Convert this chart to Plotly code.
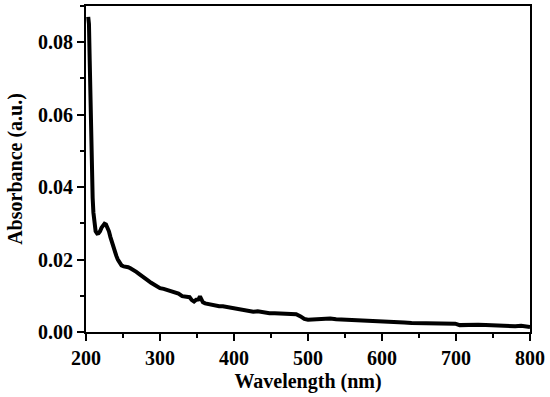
import plotly.graph_objects as go

wavelength = [203, 204, 205, 206, 207, 208, 209, 210, 211, 212, 213, 214, 215, 217, 219, 221, 223, 225, 227, 229, 231, 233, 235, 237, 239, 241, 243, 245, 248, 251, 254, 257, 260, 264, 268, 272, 276, 280, 284, 288, 292, 296, 300, 305, 310, 315, 320, 325, 330, 335, 340, 343, 346, 349, 352, 354, 356, 358, 361, 365, 370, 375, 380, 385, 390, 395, 400, 408, 415, 420, 426, 432, 440, 448, 455, 462, 470, 478, 484, 490, 495, 500, 508, 515, 522, 530, 538, 546, 555, 565, 575, 585, 595, 605, 615, 625, 630, 640, 650, 660, 670, 680, 690, 699, 705, 712, 720, 730, 740, 750, 760, 765, 772, 780, 788, 795, 800]
absorbance = [0.087, 0.085, 0.075, 0.063, 0.052, 0.043, 0.037, 0.033, 0.030, 0.0285, 0.0278, 0.0275, 0.0272, 0.0273, 0.0278, 0.0288, 0.0296, 0.0299, 0.0297, 0.0290, 0.0278, 0.0262, 0.0248, 0.0232, 0.0222, 0.0210, 0.0200, 0.0192, 0.0184, 0.0181, 0.0181, 0.0179, 0.0176, 0.0172, 0.0166, 0.0160, 0.0153, 0.0148, 0.0142, 0.0136, 0.0130, 0.0126, 0.0121, 0.0119, 0.0116, 0.0112, 0.0110, 0.0106, 0.0099, 0.0098, 0.0096, 0.0088, 0.0084, 0.0089, 0.0090, 0.0098, 0.0090, 0.0082, 0.0079, 0.0077, 0.0075, 0.0072, 0.0071, 0.0071, 0.0069, 0.0068, 0.0066, 0.0064, 0.0061, 0.0058, 0.0056, 0.0057, 0.0054, 0.0052, 0.0052, 0.0051, 0.0050, 0.0051, 0.0049, 0.0043, 0.0036, 0.0034, 0.0035, 0.0036, 0.0035, 0.0037, 0.0035, 0.0034, 0.0035, 0.0033, 0.0032, 0.0030, 0.0030, 0.0029, 0.0028, 0.0024, 0.0026, 0.0025, 0.0025, 0.0024, 0.0024, 0.0023, 0.0023, 0.0023, 0.0019, 0.0020, 0.0019, 0.0020, 0.0019, 0.0018, 0.0019, 0.0017, 0.0018, 0.0016, 0.0017, 0.0015, 0.0014]

x_ticks = [200, 300, 400, 500, 600, 700, 800]
y_ticks = [0.00, 0.02, 0.04, 0.06, 0.08]
y_tick_labels = ["0.00", "0.02", "0.04", "0.06", "0.08"]

font_family = "Liberation Serif, Times New Roman, serif"

fig = go.Figure()
fig.add_trace(go.Scatter(
    x=wavelength, y=absorbance, mode="lines",
    line=dict(color="black", width=4), showlegend=False,
))

axis_common = dict(
    showgrid=False, zeroline=False, showline=True, linecolor="black", linewidth=2,
    mirror=True, ticks="outside", tickwidth=2, ticklen=7, tickcolor="black",
    automargin=False,
    tickfont=dict(family=font_family, size=20, color="black", weight="bold"),
)

fig.update_xaxes(
    range=[200, 800], tickvals=x_ticks,
    minor=dict(ticks="outside", ticklen=4, tickwidth=2, tickcolor="black", dtick=50, tick0=200),
    title=dict(text="Wavelength (nm)", font=dict(family=font_family, size=20, color="black", weight="bold"), standoff=6),
    **axis_common,
)
fig.update_yaxes(
    range=[0, 0.09], tickvals=y_ticks, ticktext=y_tick_labels,
    minor=dict(ticks="outside", ticklen=4, tickwidth=2, tickcolor="black", dtick=0.01, tick0=0),
    title=dict(text="Absorbance (a.u.)", font=dict(family=font_family, size=20, color="black", weight="bold"), standoff=10),
    **axis_common,
)

fig.update_layout(
    width=550, height=397,
    margin=dict(l=86, r=20, t=6, b=65),
    plot_bgcolor="white", paper_bgcolor="white",
)

fig.write_html("out.html", config={"displayModeBar": False},
               post_script="document.body.style.margin='0';document.body.style.padding='0';")
